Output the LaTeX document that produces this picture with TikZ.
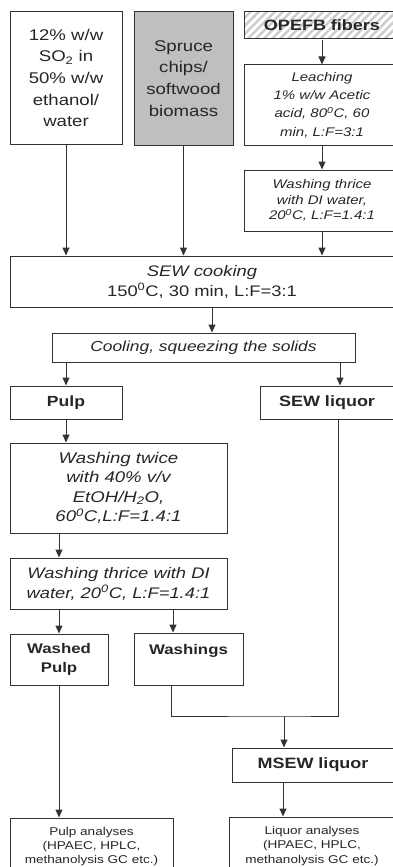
\documentclass[tikz,border=0pt]{standalone}
\usepackage{fontspec}
\setmainfont{Liberation Sans}[FakeStretch=1.2]
\usetikzlibrary{arrows.meta, patterns.meta}

\begin{document}
\begin{tikzpicture}[x=1pt, y=-1pt,
		box/.style={draw=black!80, line width=1pt, rectangle, inner sep=0pt, align=center, text=black!85},
		arr/.style={-{Triangle[length=8pt,width=7pt]}, draw=black!80, line width=1pt},
		ln/.style={draw=black!80, line width=1pt}]
		\useasboundingbox (0,0) rectangle (392,867);
		
		% 原料
		\node[box, minimum width=112pt, minimum height=132pt, font=\fontsize{15.5}{21.7}\selectfont] (so2) at (66,78) {12\% w/w\\SO\textsubscript{2} in\\50\% w/w\\ethanol/\\water};
		\node[box, fill=black!25, minimum width=99pt, minimum height=133pt, font=\fontsize{15.5}{21.7}\selectfont] (spruce) at (183.5,78.5) {Spruce\\chips/\\softwood\\biomass};
		\node[box, pattern={Lines[angle=45,distance=5.7pt,line width=2.5pt]}, pattern color=black!20, minimum width=156pt, minimum height=27pt, font=\fontsize{15}{18}\selectfont\bfseries] (opefb) at (322,25.5) {OPEFB fibers};
		
		% 预处理
		\node[box, minimum width=156pt, minimum height=80pt, font=\fontsize{12.5}{18.3}\selectfont\itshape] (leach) at (322,105) {Leaching\\1\% w/w Acetic\\acid, 80\textsuperscript{0}C, 60\\min, L:F=3:1};
		\node[box, minimum width=156pt, minimum height=61pt, font=\fontsize{12.5}{15.5}\selectfont\itshape] (wash1) at (322,200.5) {Washing thrice\\with DI water,\\20\textsuperscript{0}C, L:F=1.4:1};
		
		% 蒸煮
		\node[box, minimum width=384pt, minimum height=51pt, font=\fontsize{15.3}{20}\selectfont] (cook) at (202,281.5) {\textit{SEW cooking}\\150\textsuperscript{0}C, 30 min, L:F=3:1};
		\node[box, minimum width=303pt, minimum height=29pt, font=\fontsize{14.5}{17}\selectfont\itshape] (cool) at (203.5,347.5) {Cooling, squeezing the solids};
		\node[box, minimum width=112pt, minimum height=33pt, font=\fontsize{14.7}{17}\selectfont\bfseries] (pulp) at (66,402.5) {Pulp};
		\node[box, minimum width=134pt, minimum height=33pt, font=\fontsize{15}{17}\selectfont\bfseries] (sewliq) at (327,402.5) {SEW liquor};
		
		% 洗涤
		\node[box, minimum width=217pt, minimum height=90pt, font=\fontsize{15.5}{19.4}\selectfont\itshape] (wash2) at (118.5,488) {Washing twice\\with 40\% v/v\\EtOH/H\textsubscript{2}O,\\60\textsuperscript{0}C,L:F=1.4:1};
		\node[box, minimum width=217pt, minimum height=51pt, font=\fontsize{15.3}{20}\selectfont\itshape] (wash3) at (118.5,583.5) {Washing thrice with DI\\water, 20\textsuperscript{0}C, L:F=1.4:1};
		\node[box, minimum width=98pt, minimum height=51pt, font=\fontsize{14}{19}\selectfont\bfseries] (wpulp) at (59,659.5) {Washed\\Pulp};
		\node[box, minimum width=109pt, minimum height=52pt, font=\fontsize{14}{19}\selectfont\bfseries] (washings) at (188.5,659) {Washings\\\mbox{}};
		\node[box, minimum width=162pt, minimum height=34pt, font=\fontsize{15}{17}\selectfont\bfseries] (msew) at (313,765) {MSEW liquor};
		
		% 分析
		\node[box, minimum width=163pt, minimum height=57pt, font=\fontsize{11.3}{14.2}\selectfont] (pana) at (91.5,846.5) {Pulp analyses\\(HPAEC, HPLC,\\methanolysis GC etc.)};
		\node[box, minimum width=166pt, minimum height=58pt, font=\fontsize{11.3}{14.2}\selectfont] (lana) at (312,846) {Liquor analyses\\(HPAEC, HPLC,\\methanolysis GC etc.)};
		
		% 连线
		\draw[arr] (so2.south) -- (so2.south |- cook.north);
		\draw[arr] (spruce.south) -- (spruce.south |- cook.north);
		\draw[arr] (opefb.south) -- (leach.north);
		\draw[arr] (leach.south) -- (wash1.north);
		\draw[arr] (wash1.south) -- (wash1.south |- cook.north);
		\draw[arr] ([xshift=10pt]cook.south) -- ([xshift=10pt]cook.south |- cool.north);
		\draw[arr] (pulp.north |- cool.south) -- (pulp.north);
		\draw[arr] ([xshift=13pt]sewliq.north |- cool.south) -- ([xshift=13pt]sewliq.north);
		\draw[arr] (pulp.south) -- (pulp.south |- wash2.north);
		\draw[arr] (wpulp.north |- wash2.south) -- (wpulp.north |- wash3.north);
		\draw[arr] (wpulp.north |- wash3.south) -- (wpulp.north);
		\draw[arr] ([xshift=-15.5pt]washings.north |- wash3.south) -- ([xshift=-15.5pt]washings.north);
		\draw[arr] (wpulp.south) -- (wpulp.south |- pana.north);
		
		% 合并
		\coordinate (merge) at (284,716);
		\draw[ln] ([xshift=-17.5pt]washings.south) |- (merge) -| ([xshift=11pt]sewliq.south);
		\draw[arr] (merge) -- (merge |- msew.north);
		\draw[arr] ([xshift=-30pt]msew.south) -- ([xshift=-30pt]msew.south |- lana.north);
	\end{tikzpicture}
\end{document}
